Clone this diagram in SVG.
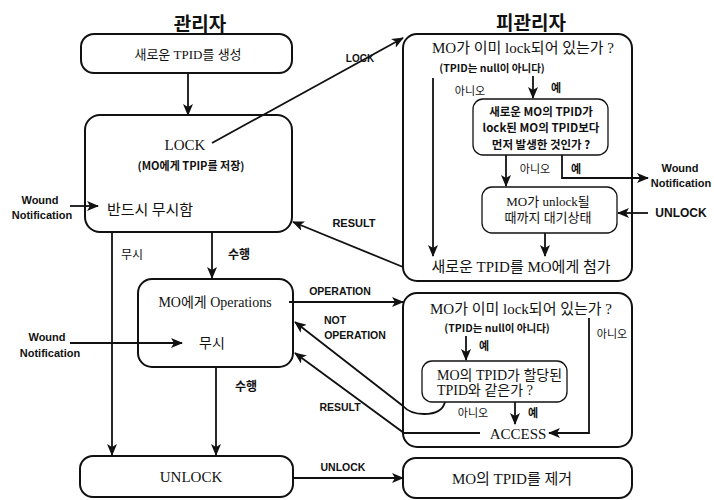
<svg xmlns="http://www.w3.org/2000/svg" width="714" height="500" viewBox="0 0 714 500">
<defs>
<marker id="ah" viewBox="0 0 12 10" refX="11" refY="5" markerWidth="12" markerHeight="10" markerUnits="userSpaceOnUse" orient="auto">
<path d="M0,0 L12,5 L0,10 L3,5 z" fill="#111"/>
</marker>
<style>
text{fill:#111;text-anchor:middle;dominant-baseline:central}
.t{font-family:"Liberation Serif","Noto Sans CJK KR",serif;font-size:15px}
.s{font-family:"Liberation Serif","Noto Sans CJK KR",serif;font-size:13px}
.b{font-family:"Liberation Sans","Noto Sans CJK KR",sans-serif;font-size:11px;font-weight:bold}
.kb{font-family:"Noto Sans CJK KR",sans-serif;font-size:11px;font-weight:bold}
.h{font-family:"Noto Sans CJK KR",sans-serif;font-size:19px;font-weight:bold}
.box{fill:none;stroke:#111;stroke-width:2}
.in{fill:none;stroke:#111;stroke-width:1.3}
.c{fill:none;stroke:#111;stroke-width:1.8}
.a{fill:none;stroke:#111;stroke-width:1.8;marker-end:url(#ah)}
</style>
</defs>
<rect width="714" height="500" fill="#fff"/>

<text class="h" x="200" y="22">관리자</text>
<text class="h" x="531" y="21">피관리자</text>

<g id="create">
<rect class="box" x="81" y="34" width="211" height="39" rx="13"/>
<text class="s" x="188" y="54">새로운 TPID를 생성</text>
</g>

<g id="lock">
<rect class="box" x="85" y="115" width="207" height="117" rx="15"/>
<text class="t" x="185" y="145">LOCK</text>
<text class="kb" x="191" y="165">(MO에게 TPIP를 저장)</text>
<text class="t" x="150" y="208" style="font-family:'Noto Sans CJK KR',sans-serif;font-size:15px">반드시 무시함</text>
</g>

<g id="wound1">
<text class="b" x="40" y="200">Wound</text>
<text class="b" x="42" y="215">Notification</text>
</g>

<g id="check-lock">
<rect class="box" x="403" y="34" width="229" height="247" rx="14"/>
<text class="t" x="523" y="48">MO가 이미 lock되어 있는가 ?</text>
<text class="kb" x="492" y="67" style="font-size:10.5px">(TPID는 null이 아니다)</text>
<text class="kb" x="470" y="90" style="font-weight:normal">아니오</text>
<text class="kb" x="556" y="87">예</text>
<text class="kb" x="535" y="168" style="font-weight:normal">아니오</text>
<text class="kb" x="576" y="168">예</text>
<text class="t" x="521" y="267">새로운 TPID를 MO에게 첨가</text>
</g>

<g id="compare-tpid">
<rect class="in" x="473" y="99" width="135" height="56" rx="10"/>
<text class="kb" x="541" y="111" style="font-size:11.5px">새로운 MO의 TPID가</text>
<text class="kb" x="541" y="127" style="font-size:11.5px">lock된 MO의 TPID보다</text>
<text class="kb" x="541" y="144" style="font-size:11.5px">먼저 발생한 것인가 ?</text>
</g>

<g id="wait">
<rect class="in" x="482" y="187" width="135" height="46" rx="10"/>
<text class="s" x="548" y="201">MO가 unlock될</text>
<text class="s" x="548" y="217">때까지 대기상태</text>
</g>

<g id="wound2">
<text class="b" x="680" y="168">Wound</text>
<text class="b" x="681" y="183">Notification</text>
</g>
<g id="unlock-in">
<text class="b" x="681" y="213" style="font-size:12px">UNLOCK</text>
</g>

<g id="operations">
<rect class="box" x="138" y="279" width="155" height="88" rx="14"/>
<text class="t" x="215" y="302" style="font-size:14px">MO에게 Operations</text>
<text class="t" x="212" y="343" style="font-size:14px">무시</text>
</g>

<g id="wound3">
<text class="b" x="47" y="337">Wound</text>
<text class="b" x="50" y="353">Notification</text>
</g>

<g id="check-op">
<rect class="box" x="403" y="293" width="229" height="154" rx="14"/>
<text class="t" x="521" y="309">MO가 이미 lock되어 있는가 ?</text>
<text class="kb" x="497" y="327" style="font-size:10.5px">(TPID는 null이 아니다)</text>
<text class="kb" x="484" y="345">예</text>
<text class="kb" x="612" y="333" style="font-weight:normal">아니오</text>
<text class="kb" x="473" y="412" style="font-weight:normal">아니오</text>
<text class="kb" x="533" y="412">예</text>
<text class="t" x="518" y="434">ACCESS</text>
</g>

<g id="same-tpid">
<rect class="in" x="422" y="361" width="145" height="41" rx="10"/>
<text class="t" x="437" y="375" style="text-anchor:start;font-size:14px">MO의 TPID가 할당된</text>
<text class="t" x="437" y="390" style="text-anchor:start;font-size:14px">TPID와 같은가 ?</text>
</g>

<g id="unlock">
<rect class="box" x="80" y="456" width="213" height="41" rx="13"/>
<text class="t" x="191" y="477">UNLOCK</text>
</g>

<g id="remove">
<rect class="box" x="403" y="458" width="229" height="40" rx="13"/>
<text class="t" x="512" y="479">MO의 TPID를 제거</text>
</g>

<g id="connectors">
<line class="a" x1="188" y1="73" x2="188" y2="115"/>
<line class="a" x1="212" y1="143" x2="403" y2="38"/>
<text class="b" x="360" y="58" style="font-size:10px">LOCK</text>
<line class="a" x1="70" y1="206" x2="98" y2="206"/>
<line class="a" x1="433" y1="78" x2="433" y2="256"/>
<line class="a" x1="533" y1="76" x2="533" y2="98"/>
<line class="a" x1="506" y1="155" x2="506" y2="186"/>
<polyline class="a" points="562,155 562,178 648,178"/>
<line class="a" x1="648" y1="213" x2="618" y2="213"/>
<line class="a" x1="545" y1="233" x2="545" y2="256"/>
<line class="a" x1="403" y1="267" x2="293" y2="222"/>
<text class="b" x="354" y="223">RESULT</text>
<line class="a" x1="112" y1="232" x2="112" y2="455"/>
<text class="kb" x="132" y="253" style="font-weight:normal;font-size:12px">무시</text>
<line class="a" x1="212" y1="232" x2="212" y2="278"/>
<text class="kb" x="239" y="253" style="font-size:12px">수행</text>
<line class="a" x1="70" y1="343" x2="182" y2="343"/>
<line class="a" x1="216" y1="367" x2="216" y2="455"/>
<text class="kb" x="246" y="385" style="font-size:12px">수행</text>
<line class="a" x1="289" y1="302" x2="403" y2="302"/>
<text class="b" x="340" y="291" style="font-size:10.5px">OPERATION</text>
<path class="a" d="M445,402 Q442,414 424,414 Q410,414 403,406 L295,322"/>
<text class="b" x="335" y="320" style="font-size:10.5px">NOT</text>
<text class="b" x="355" y="335" style="font-size:10.5px">OPERATION</text>
<polyline class="a" points="480,433 404,433 295,353"/>
<text class="b" x="340" y="407" style="font-size:10.5px">RESULT</text>
<line class="a" x1="466" y1="336" x2="466" y2="360"/>
<line class="a" x1="515" y1="402" x2="515" y2="424"/>
<polyline class="a" points="589,318 589,433 549,433"/>
<line class="a" x1="293" y1="478" x2="403" y2="478"/>
<text class="b" x="343" y="467" style="font-size:10.5px">UNLOCK</text>
</g>
</svg>
